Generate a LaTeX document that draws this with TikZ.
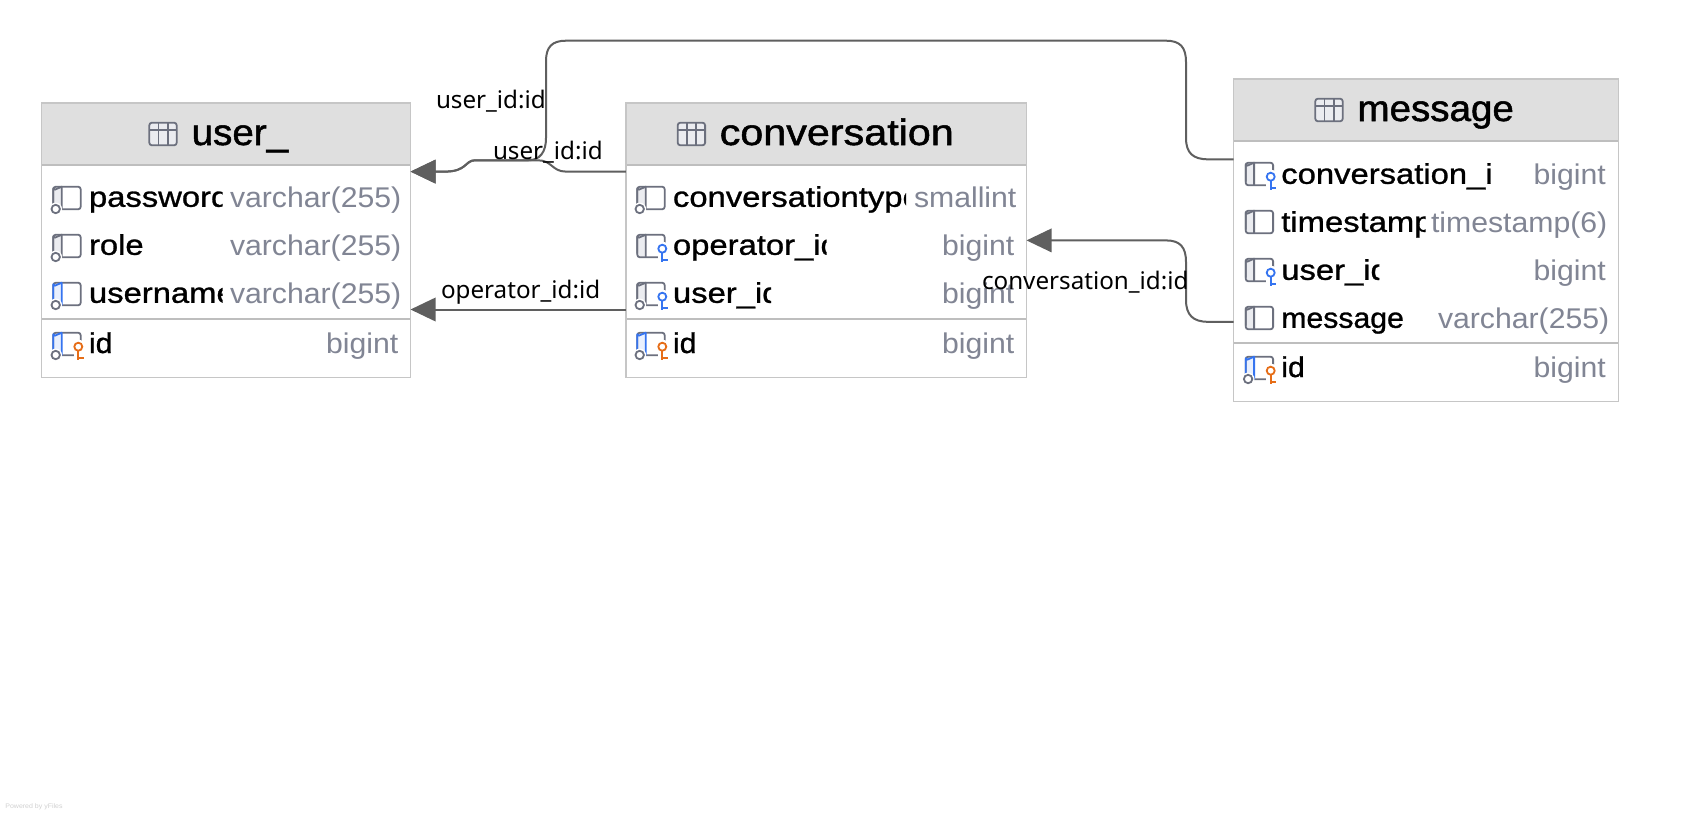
\documentclass[tikz,border=0pt]{standalone}
\usepackage{fontspec}
\usetikzlibrary{arrows.meta}
\newfontfamily\uifont[FakeStretch=1.06]{Liberation Sans}
\newfontfamily\uibold[FakeStretch=1.06,FakeBold=1]{Liberation Sans}
\newfontfamily\uiwide[FakeStretch=1.15,FakeBold=1]{Liberation Sans}
\newfontfamily\uititle[FakeStretch=1.05,FakeBold=1.4]{Liberation Sans}
\newfontfamily\uititlew[FakeStretch=1.125,FakeBold=1.4]{Liberation Sans}
\newfontfamily\labelfont{Noto Sans}
\definecolor{icongrey}{HTML}{6C707E}
\definecolor{iconfill}{HTML}{EBECF0}
\definecolor{iconblue}{HTML}{3574F0}
\definecolor{bluefill}{HTML}{E9F0FE}
\definecolor{keyorange}{HTML}{E66D17}
\definecolor{typegrey}{HTML}{818594}
\definecolor{edgegrey}{HTML}{5F5F5F}
\definecolor{tableborder}{HTML}{C6C6C6}
\definecolor{headfill}{HTML}{DFDFDF}
\definecolor{headline}{HTML}{BEBEBE}
\tikzset{
  tablebox/.style={draw=tableborder,line width=.75pt,fill=white,anchor=north west,inner sep=0pt,outer sep=0pt},
  titletext/.style={anchor=base west,inner sep=0pt,outer sep=0pt,font=\uititle\fontsize{18.35}{20}\selectfont,text=black},
  titlewide/.style={titletext,font=\uititlew\fontsize{18.35}{20}\selectfont},
  colname/.style={anchor=base west,inner sep=0pt,outer sep=0pt,font=\uiwide\fontsize{14.25}{16}\selectfont,text=black},
  colnamen/.style={colname,font=\uibold\fontsize{14.25}{16}\selectfont},
  coltype/.style={anchor=base west,inner sep=0pt,outer sep=0pt,font=\uifont\fontsize{14.25}{16}\selectfont,text=typegrey},
  rellabel/.style={anchor=base west,inner sep=0pt,outer sep=0pt,font=\labelfont\fontsize{12.1}{14}\selectfont,text=black},
  relation/.style={draw=edgegrey,line width=1pt},
  relarrow/.style={relation,-{Triangle[length=12.6pt,width=11.8pt,fill=edgegrey]}},
  iconline/.style={line width=.9pt,rounded corners=1.3pt},
  sepline/.style={draw=headline,line width=1pt},
}
% table frame: name, x0, y0, x1, y1, header bottom, divider
\newcommand{\dbtable}[7]{%
  \node[tablebox,minimum width={(#4-#2)*.5pt},minimum height={(#5-#3)*.5pt}] (#1) at (#2,#3) {};
  \fill[headfill] (#2+.7,#3+.7) rectangle (#4-.7,#6);
  \draw[sepline] (#2+.7,#6) -- (#4-.7,#6);
  \draw[sepline] (#2+.7,#7) -- (#4-.7,#7);
}
% table glyph: x, y
\newcommand{\tableglyph}[2]{%
  \begin{scope}[shift={(#1,#2)}]
    \fill[iconfill,rounded corners=1.3pt] (0,0) rectangle (27.4,22.6);
    \draw[icongrey,iconline] (0,0) rectangle (27.4,22.6);
    \draw[icongrey,line width=.9pt] (0,7) -- (27.4,7) (9.1,0) -- (9.1,22.6) (18.3,0) -- (18.3,22.6);
  \end{scope}
}
% column glyph: x, y, left colour, left fill, circle(0/1), key colour (none = no key)
\newcommand{\colglyph}[6]{%
  \begin{scope}[shift={(#1,#2)}]
    \fill[#4,rounded corners=1.3pt] (0,0) rectangle (8.4,22.6);
    \draw[icongrey,iconline] (0,0) rectangle (27.4,22.6);
    \draw[#3,line width=.9pt,line join=round] (0,19) -- (0,1.5) arc[start angle=180,end angle=90,radius=1.5] -- (8.4,0) -- (8.4,22.6);
    \ifnum#5=1
      \fill[white] (2.4,22.3) circle[radius=6.4];
      \draw[icongrey,line width=.9pt] (2.4,22.3) circle[radius=4.2];
    \fi
    \def\keycol{#6}\def\nokey{none}%
    \ifx\keycol\nokey\else
      \fill[white] (25,14) circle[radius=7];
      \fill[white] (20.5,15) rectangle (31,28);
      \draw[#6,line width=.9pt] (25,14) circle[radius=4];
      \draw[#6,line width=1pt] (25,18) -- (25,27) (25,25.6) -- (30.5,25.6);
    \fi
  \end{scope}
}
% name clipped to a column: node name, x, baseline, clip right, style, text
\newcommand{\colnameclip}[6]{%
  \begin{scope}
    \clip (#2-3,#3-34) rectangle (#4,#3+14);
    \node[#5] (#1) at (#2,#3) {#6};
  \end{scope}
}
\begin{document}
\begin{tikzpicture}[x=.5pt,y=-.5pt]
\useasboundingbox (0,0) rectangle (1698,814);
\fill[white] (0,0) rectangle (1698,814);

% ---------- user_
\dbtable{user}{41.3}{102.9}{410.5}{377.5}{165.2}{319}
\tableglyph{149.3}{122.7}
\node[titletext] (usertitle) at (191.7,145) {user\_};
\colglyph{53.3}{186.7}{icongrey}{iconfill}{1}{none}
\colnameclip{upass}{89}{206.8}{222.7}{colname}{password}
\node[coltype] (upasst) at (230,207.6) {varchar(255)};
\colglyph{53.3}{234.7}{icongrey}{iconfill}{1}{none}
\colnameclip{urole}{89}{254.8}{222.7}{colname}{role}
\node[coltype] (uroley) at (230,255.6) {varchar(255)};
\colglyph{53.3}{282.7}{iconblue}{bluefill}{1}{none}
\colnameclip{uname}{89}{302.8}{222.7}{colname}{username}
\node[coltype] (unamet) at (230,303.6) {varchar(255)};
\colglyph{53.3}{332.7}{iconblue}{bluefill}{1}{keyorange}
\colnameclip{uid}{89}{353}{222.7}{colnamen}{id}
\node[coltype] (uidt) at (326,353.6) {bigint};

% ---------- conversation
\dbtable{conversation}{625.9}{102.9}{1026.5}{377.5}{165.2}{319}
\tableglyph{677.7}{122.7}
\node[titlewide] (convtitle) at (719.7,145) {conversation};
\colglyph{637.3}{186.7}{icongrey}{iconfill}{1}{none}
\colnameclip{ctype}{673}{206.8}{906}{colname}{conversationtype}
\node[coltype] (ctypet) at (914,207.6) {smallint};
\colglyph{637.3}{234.7}{icongrey}{iconfill}{0}{iconblue}
\colnameclip{cop}{673}{254.8}{826.7}{colname}{operator\_id}
\node[coltype] (copt) at (942,255.6) {bigint};
\colglyph{637.3}{282.7}{icongrey}{iconfill}{1}{iconblue}
\colnameclip{cuser}{673}{302.8}{771}{colname}{user\_id}
\node[coltype] (cusert) at (942,303.6) {bigint};
\colglyph{637.3}{332.7}{iconblue}{bluefill}{1}{keyorange}
\colnameclip{cid}{673}{353}{826.7}{colnamen}{id}
\node[coltype] (cidt) at (942,353.6) {bigint};

% ---------- message
\dbtable{message}{1233.5}{78.9}{1618.5}{401.5}{141.2}{343}
\tableglyph{1315.3}{98.7}
\node[titletext] (msgtitle) at (1357.5,121) {message};
\colglyph{1245.7}{162.7}{icongrey}{iconfill}{0}{iconblue}
\colnameclip{mconv}{1281.3}{183.8}{1490.7}{colname}{conversation\_id}
\node[coltype] (mconvt) at (1533.5,184.2) {bigint};
\colglyph{1245.7}{210.7}{icongrey}{iconfill}{0}{none}
\colnameclip{mstamp}{1281.3}{231.8}{1425.7}{colname}{timestamp}
\node[coltype] (mstampt) at (1431,232.2) {timestamp(6)};
\colglyph{1245.7}{258.7}{icongrey}{iconfill}{0}{iconblue}
\colnameclip{muser}{1281.3}{279.8}{1379.3}{colname}{user\_id}
\node[coltype] (musert) at (1533.5,280.2) {bigint};
\colglyph{1245.7}{306.7}{icongrey}{iconfill}{0}{none}
\colnameclip{mmsg}{1281.3}{327.8}{1405.3}{colnamen}{message}
\node[coltype] (mmsgt) at (1438,328.2) {varchar(255)};
\colglyph{1245.7}{356.7}{iconblue}{bluefill}{1}{keyorange}
\colnameclip{mid}{1281.3}{377}{1490.7}{colnamen}{id}
\node[coltype] (midt) at (1533.5,377.6) {bigint};

% ---------- connectors
\draw[relarrow] (conversation.west |- 0,171.6) -- (566,171.6)
  .. controls (552,171.6) and (552,160.3) .. (538,160.3) -- (475,160.3)
  .. controls (465,160.3) and (467,171.6) .. (445,171.6) -- (user.east |- 0,171.6);
\draw[relarrow] (message.west |- 0,159.3) -- (1208,159.3)
  .. controls (1193,159.3) and (1186,153) .. (1186,138) -- (1186,62)
  .. controls (1186,47) and (1180,40.7) .. (1166,40.7) -- (566,40.7)
  .. controls (552,40.7) and (546,47) .. (546,61) -- (546,138)
  .. controls (546,152) and (540,160.3) .. (528,160.3) -- (475,160.3)
  .. controls (465,160.3) and (467,171.6) .. (445,171.6) -- (user.east |- 0,171.6);
\draw[relarrow] (conversation.west |- 0,309.5) -- (user.east |- 0,309.5);
\draw[relarrow] (message.west |- 0,321.8) -- (1208,321.8)
  .. controls (1193,321.8) and (1186,315) .. (1186,300) -- (1186,262)
  .. controls (1186,247) and (1180,240.4) .. (1166,240.4) -- (conversation.east |- 0,240.4);

% ---------- labels
\node[rellabel] (l1) at (436,108.8) {user\_id:id};
\node[rellabel] (l2) at (493,159.8) {user\_id:id};
\node[rellabel] (l3) at (441,298) {operator\_id:id};
\node[rellabel] (l4) at (982,289.8) {conversation\_id:id};

\node[anchor=base west,inner sep=0pt,font=\uifont\fontsize{3.3}{4}\selectfont,text=black!18] (credit) at (5,808) {Powered by yFiles};
\end{tikzpicture}
\end{document}
